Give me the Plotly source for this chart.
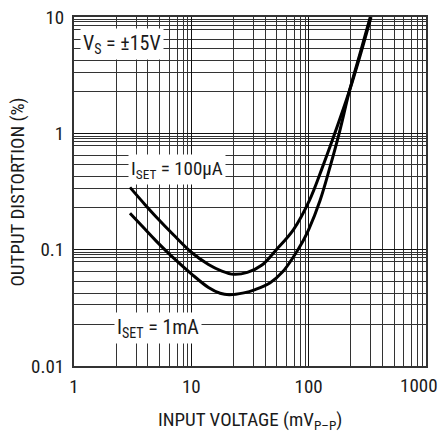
import plotly.graph_objects as go

# ---- data ----
x_100uA = [3, 4, 5, 7, 10, 14, 18, 23, 30, 40, 53, 74, 102, 130, 167, 224, 280, 340]
y_100uA = [0.343, 0.246, 0.192, 0.135, 0.095, 0.0746, 0.0658, 0.0614, 0.0638, 0.0738,
           0.1, 0.148, 0.268, 0.5, 1.0, 2.37, 5.0, 10.0]

x_1mA = [3, 4, 5, 7, 10, 14, 17.6, 21, 28, 35, 47, 60, 75, 90, 100, 125, 150, 182, 224, 280, 335]
y_1mA = [0.206, 0.151, 0.119, 0.0853, 0.062, 0.0473, 0.0422, 0.041, 0.0425, 0.0454, 0.0519,
         0.0645, 0.0883, 0.12, 0.1485, 0.265, 0.49, 1.0, 2.37, 5.25, 10.0]

x_tick_vals = [1, 10, 100, 1000]
x_tick_text = ["1", "10", "100", ""]
y_tick_vals = [0.01, 0.1, 1, 10]
y_tick_text = ["0.01", "0.1", "1", "10"]

# within-decade grid factors of the original printed grid
x_grid_factors = [2.29, 3.39, 4.27, 5.37, 6.46, 7.59, 8.51, 9.33]
y_grid_factors = [2.29, 3.35, 4.23, 5.35, 6.46, 7.85, 8.53, 9.06, 9.48]

minor_x = [f * d for d in (1, 10, 100) for f in x_grid_factors]
minor_y = [f * d for d in (0.01, 0.1, 1) for f in y_grid_factors]

FONT = "Liberation Sans Narrow, Arial Narrow, Roboto Condensed, Liberation Sans, sans-serif"
TXT = "#1a1a1a"

fig = go.Figure()
fig.add_trace(go.Scatter(x=x_100uA, y=y_100uA, mode="lines",
                         line=dict(color="black", width=3, shape="spline", smoothing=1),
                         showlegend=False, hoverinfo="skip"))
fig.add_trace(go.Scatter(x=x_1mA, y=y_1mA, mode="lines",
                         line=dict(color="black", width=3, shape="spline", smoothing=1),
                         showlegend=False, hoverinfo="skip"))

axis_common = dict(
    automargin=False,
    showgrid=True, gridcolor="#111111", gridwidth=1,
    showline=True, linecolor="#333333", linewidth=2, mirror=True,
    ticks="outside", tickcolor="rgba(0,0,0,0)",
    tickfont=dict(size=19, family=FONT, color=TXT),
    zeroline=False,
)

fig.update_xaxes(type="log", range=[0, 3], tickmode="array", ticklen=2,
                 tickvals=x_tick_vals, ticktext=x_tick_text,
                 minor=dict(tickmode="array", tickvals=minor_x, showgrid=True,
                            gridcolor="#333333", gridwidth=1, ticks=""),
                 **axis_common)
fig.update_yaxes(type="log", range=[-2, 1], tickmode="array", ticklen=4,
                 tickvals=y_tick_vals, ticktext=y_tick_text,
                 minor=dict(tickmode="array", tickvals=minor_y, showgrid=True,
                            gridcolor="#333333", gridwidth=1, ticks=""),
                 **axis_common)

annotations = [
    dict(text="V<sub>S</sub> = ±15V", x=0.135, y=0.924, size=20),
    dict(text="I<sub>SET</sub> = 100µA", x=0.293, y=0.562, size=19),
    dict(text="I<sub>SET</sub> = 1mA", x=0.239, y=0.109, size=20),
]
for a in annotations:
    fig.add_annotation(xref="paper", yref="paper", showarrow=False,
                       xanchor="center", yanchor="middle",
                       bgcolor="white", borderpad=2,
                       font=dict(size=a["size"], family=FONT, color=TXT),
                       text=a["text"], x=a["x"], y=a["y"])

fig.add_annotation(text="1000", xref="paper", yref="paper", x=0.98, y=-0.055,
                   showarrow=False, xanchor="center", yanchor="middle",
                   font=dict(size=19, family=FONT, color=TXT))
fig.add_annotation(text="OUTPUT DISTORTION (%)", xref="paper", yref="paper",
                   x=-0.159, y=0.497, textangle=-90, showarrow=False,
                   xanchor="center", yanchor="middle",
                   font=dict(size=19, family=FONT, color=TXT))
fig.add_annotation(text="INPUT VOLTAGE (mV<sub>P–P</sub>)", xref="paper", yref="paper",
                   x=0.5, y=-0.157, showarrow=False,
                   xanchor="center", yanchor="middle",
                   font=dict(size=19, family=FONT, color=TXT))

fig.update_layout(width=440, height=433, autosize=False,
                  margin=dict(l=74, r=14, t=17, b=67, autoexpand=False),
                  paper_bgcolor="white", plot_bgcolor="white",
                  font=dict(family=FONT, color=TXT))

fig.write_html("out.html", config={"displayModeBar": False, "staticPlot": True},
               post_script="document.body.style.margin='0';document.body.style.overflow='hidden';")
